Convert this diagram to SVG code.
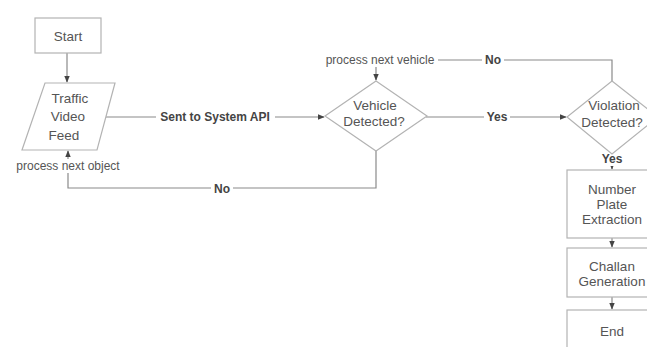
<svg xmlns="http://www.w3.org/2000/svg" width="647" height="347" viewBox="0 0 647 347">
<style>
.shape{fill:#fff;stroke:#b3b3b3;stroke-width:1.2}
.t{font-family:"Liberation Sans",Arial,sans-serif;font-size:13.5px;fill:#555;text-anchor:middle}
.e{stroke:#8a8a8a;stroke-width:1.2;fill:none}
.lbl{font-family:"Liberation Sans",Arial,sans-serif;font-size:12px;fill:#555;text-anchor:middle}
.b{font-weight:bold;fill:#444}
.bg{fill:#fff}
</style>
<defs>
<marker id="ah" viewBox="0 0 10 10" refX="9" refY="5" markerWidth="6" markerHeight="6" orient="auto">
<path d="M0,1 L10,5 L0,9 z" fill="#444"/>
</marker>
</defs>
<rect width="647" height="347" fill="#fff"/>
<g id="connectors">
<path class="e" d="M67,53 V82" marker-end="url(#ah)"/>
<path class="e" d="M106,117 H324" marker-end="url(#ah)"/>
<path class="e" d="M426,117 H566" marker-end="url(#ah)"/>
<path class="e" d="M612,81 V60 H376 V80" marker-end="url(#ah)"/>
<path class="e" d="M376,151 V188 H68 V151" marker-end="url(#ah)"/>
<path class="e" d="M612,154 V169" marker-end="url(#ah)"/>
<path class="e" d="M612,238 V247" marker-end="url(#ah)"/>
<path class="e" d="M612,297 V309" marker-end="url(#ah)"/>
<rect class="bg" x="156" y="110" width="119" height="14"/>
<text class="lbl b" x="215" y="121">Sent to System API</text>
<rect class="bg" x="484" y="110" width="26" height="14"/>
<text class="lbl b" x="497" y="121">Yes</text>
<rect class="bg" x="322" y="53" width="116" height="14"/>
<text class="lbl" x="380" y="64">process next vehicle</text>
<rect class="bg" x="482" y="53" width="22" height="14"/>
<text class="lbl b" x="493" y="64">No</text>
<rect class="bg" x="12" y="159" width="113" height="14"/>
<text class="lbl" x="68" y="170">process next object</text>
<rect class="bg" x="211" y="182" width="22" height="14"/>
<text class="lbl b" x="222" y="193">No</text>
<rect class="bg" x="599" y="154" width="26" height="12"/>
<text class="lbl b" x="612" y="163" font-size="11">Yes</text>
</g>
<g id="start">
<rect class="shape" x="35" y="18" width="66" height="35"/>
<text class="t" x="68" y="41" font-size="15">Start</text>
</g>
<g id="feed">
<polygon class="shape" points="45,83 115,83 97,150 22,150"/>
<text class="t" x="70" y="103">Traffic</text>
<text class="t" x="68" y="121">Video</text>
<text class="t" x="64" y="140">Feed</text>
</g>
<g id="vehicle">
<polygon class="shape" points="376,81 427,116 376,151 325,116"/>
<text class="t" x="375" y="110" font-size="13">Vehicle</text>
<text class="t" x="374" y="126" font-size="13">Detected?</text>
</g>
<g id="violation">
<polygon class="shape" points="612,81 658,117 612,154 567,117"/>
<text class="t" x="614" y="110" font-size="13">Violation</text>
<text class="t" x="612" y="127" font-size="13">Detected?</text>
</g>
<g id="plate">
<rect class="shape" x="567" y="170" width="90" height="68"/>
<text class="t" x="612" y="194" font-size="12.5">Number</text>
<text class="t" x="612" y="209" font-size="12.5">Plate</text>
<text class="t" x="612" y="224" font-size="12.5">Extraction</text>
</g>
<g id="challan">
<rect class="shape" x="567" y="248" width="90" height="49"/>
<text class="t" x="612" y="271" font-size="12.5">Challan</text>
<text class="t" x="612" y="286" font-size="12.5">Generation</text>
</g>
<g id="end">
<rect class="shape" x="567" y="310" width="90" height="45"/>
<text class="t" x="612" y="336" font-size="12.5">End</text>
</g>
</svg>
